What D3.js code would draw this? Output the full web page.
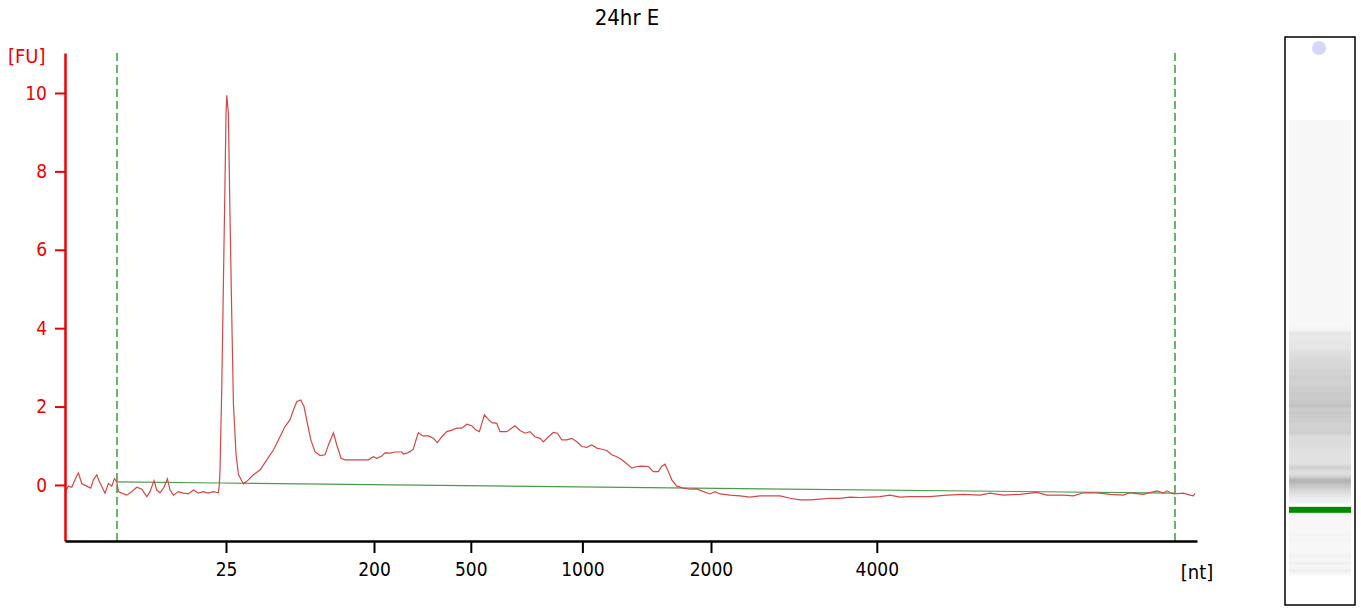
<!DOCTYPE html>
<html>
<head>
<meta charset="utf-8">
<script src="https://cdn.jsdelivr.net/npm/d3@7"></script>
<style>
  body { margin: 0; background: #fff; }
  svg { display: block; }
  text { font-family: "DejaVu Sans Condensed", "DejaVu Sans", sans-serif; font-stretch: condensed; }
</style>
</head>
<body>
<div id="chart"></div>
<script>
var svgWidth = 1361;
var svgHeight = 609;

var margin = { top: 53, right: 164, bottom: 68, left: 65 };
var width = svgWidth - margin.left - margin.right;
var height = svgHeight - margin.top - margin.bottom;

// migration time (s) of each trace sample and its fluorescence (FU)
var traceTime = [
  17.00, 17.17, 17.34, 17.50, 17.67, 17.84, 18.09, 18.29, 18.42, 18.59,
  18.72, 18.84, 19.00, 19.17, 19.34, 19.47, 19.59, 19.67, 19.84, 20.09,
  20.34, 20.59, 20.84, 21.09, 21.25, 21.45, 21.59, 21.75, 21.95, 22.12,
  22.25, 22.42, 22.67, 22.92, 23.17, 23.42, 23.67, 23.92, 24.17, 24.42,
  24.67, 24.72, 24.75, 24.84, 24.92, 25.00, 25.05, 25.09, 25.17, 25.25,
  25.34, 25.42, 25.55, 25.67, 25.84, 25.93, 26.17, 26.42, 26.75, 27.09,
  27.42, 27.75, 28.00, 28.25, 28.42, 28.59, 28.79, 28.95, 29.12, 29.29,
  29.50, 29.75, 30.00, 30.20, 30.42, 30.59, 30.80, 31.00, 31.59, 32.17,
  32.42, 32.59, 32.84, 33.00, 33.25, 33.50, 33.84, 33.92, 34.09, 34.25,
  34.42, 34.55, 34.67, 34.89, 35.17, 35.42, 35.62, 35.84, 36.09, 36.34,
  36.59, 36.84, 37.09, 37.34, 37.55, 37.72, 37.84, 37.97, 38.12, 38.34,
  38.59, 38.75, 39.09, 39.34, 39.50, 39.75, 40.00, 40.25, 40.50, 40.75,
  40.92, 41.17, 41.42, 41.62, 41.84, 42.09, 42.34, 42.59, 42.84, 43.09,
  43.34, 43.59, 43.84, 44.09, 44.34, 44.59, 44.84, 45.09, 45.34, 45.59,
  45.84, 46.17, 46.42, 46.67, 46.84, 47.00, 47.17, 47.34, 47.59, 47.92,
  48.25, 48.59, 48.92, 49.25, 49.50, 49.75, 50.25, 50.75, 51.25, 51.75,
  52.25, 52.75, 53.25, 53.75, 54.25, 54.75, 55.25, 55.75, 56.25, 56.75,
  57.25, 57.75, 58.25, 58.75, 59.25, 59.75, 60.25, 61.09, 61.92, 62.75,
  63.25, 63.92, 64.75, 65.59, 66.09, 66.92, 67.42, 67.92, 68.59, 69.25,
  69.92, 70.25, 70.92, 71.59, 71.92, 72.09, 72.42, 72.92, 73.25, 73.42,
  73.50
];
var traceFU = [
  -0.17, -0.03, -0.06, 0.13, 0.31, 0.03, -0.03, -0.08, 0.13, 0.26,
  0.08, -0.04, -0.21, 0.04, -0.03, 0.16, 0.08, -0.17, -0.21, -0.26,
  -0.17, -0.06, -0.11, -0.30, -0.17, 0.11, -0.13, -0.20, -0.06, 0.16,
  -0.13, -0.26, -0.17, -0.21, -0.23, -0.13, -0.21, -0.17, -0.21, -0.17,
  -0.20, 0.04, 0.36, 2.53, 5.13, 7.73, 9.46, 9.94, 9.46, 6.86,
  4.26, 2.09, 0.79, 0.27, 0.10, 0.03, 0.13, 0.26, 0.38, 0.64,
  0.89, 1.23, 1.49, 1.66, 1.91, 2.13, 2.17, 2.00, 1.57, 1.15,
  0.85, 0.75, 0.77, 1.06, 1.33, 1.02, 0.68, 0.64, 0.64, 0.64,
  0.72, 0.68, 0.74, 0.82, 0.81, 0.84, 0.84, 0.79, 0.81, 0.85,
  0.92, 1.15, 1.33, 1.25, 1.25, 1.19, 1.08, 1.23, 1.36, 1.40,
  1.45, 1.45, 1.55, 1.51, 1.40, 1.36, 1.57, 1.79, 1.70, 1.59,
  1.57, 1.36, 1.36, 1.45, 1.51, 1.39, 1.32, 1.36, 1.23, 1.19,
  1.10, 1.23, 1.34, 1.32, 1.15, 1.15, 1.19, 1.10, 0.98, 0.96,
  1.02, 0.94, 0.91, 0.88, 0.77, 0.72, 0.64, 0.54, 0.43, 0.47,
  0.48, 0.47, 0.34, 0.34, 0.48, 0.53, 0.34, 0.13, -0.03, -0.08,
  -0.11, -0.10, -0.17, -0.23, -0.17, -0.23, -0.26, -0.28, -0.31, -0.28,
  -0.28, -0.28, -0.34, -0.38, -0.38, -0.36, -0.34, -0.34, -0.31, -0.32,
  -0.31, -0.30, -0.26, -0.31, -0.30, -0.30, -0.30, -0.26, -0.24, -0.26,
  -0.21, -0.26, -0.24, -0.19, -0.26, -0.26, -0.28, -0.20, -0.20, -0.24,
  -0.26, -0.20, -0.24, -0.15, -0.21, -0.15, -0.23, -0.21, -0.26, -0.28,
  -0.21
];

// fitted baseline
var baseTime = [19.60, 24.70, 72.50];
var baseFU = [0.08, 0.05, -0.21];

// ladder sizes and where they run
var ladderNt = [25, 200, 500, 1000, 2000, 4000];
var ladderTime = [25.05, 32.45, 37.29, 42.87, 49.30, 57.59];

// start / end of the analysed region
var markerTime = [19.60, 72.50];
var lowerMarkerTime = 25.09;

var fuTicks = [0, 2, 4, 6, 8, 10];

var svg = d3.select("#chart")
  .append("svg")
  .attr("width", svgWidth)
  .attr("height", svgHeight);

var chartGroup = svg.append("g")
  .attr("transform", `translate(${margin.left}, ${margin.top})`);

var xScale = d3.scaleLinear().domain([17, 73.6]).range([0, 1132]);
var yScale = d3.scaleLinear().domain([-1.43, 11.02]).range([height, 0]);

// title
svg.append("text")
  .attr("x", 627)
  .attr("y", 25)
  .attr("text-anchor", "middle")
  .style("font-size", "22px")
  .text("24hr E");

// dashed region lines
chartGroup.selectAll(".region")
  .data(markerTime)
  .enter()
  .append("line")
  .attr("x1", d => xScale(d))
  .attr("x2", d => xScale(d))
  .attr("y1", 0)
  .attr("y2", height)
  .attr("stroke", "#3a9a3a")
  .attr("stroke-width", 1.5)
  .attr("stroke-dasharray", "8,4");

// baseline
var baseLine = d3.line()
  .x((d, i) => xScale(baseTime[i]))
  .y(d => yScale(d));

chartGroup.append("path")
  .datum(baseFU)
  .attr("d", baseLine)
  .attr("fill", "none")
  .attr("stroke", "#4c9a4c")
  .attr("stroke-width", 1.2);

// electropherogram
var trace = d3.line()
  .x((d, i) => xScale(traceTime[i]))
  .y(d => yScale(d));

chartGroup.append("path")
  .datum(traceFU)
  .attr("d", trace)
  .attr("fill", "none")
  .attr("stroke", "#d24848")
  .attr("stroke-width", 1.2);

// axes
var leftAxis = d3.axisLeft(yScale)
  .tickValues(fuTicks)
  .tickSize(10)
  .tickSizeOuter(0)
  .tickPadding(8);

var yAxisG = chartGroup.append("g").call(leftAxis);
yAxisG.select(".domain").attr("stroke", "#ee0000").attr("stroke-width", 2.5);
yAxisG.selectAll(".tick line").attr("stroke", "#ee0000").attr("stroke-width", 2);
yAxisG.selectAll(".tick text")
  .attr("fill", "#ee0000")
  .style("font-size", "19px")
  .style("font-family", "'DejaVu Sans Condensed', 'DejaVu Sans', sans-serif");

svg.append("text")
  .attr("x", 8)
  .attr("y", 63)
  .attr("fill", "#ee0000")
  .style("font-size", "20px")
  .text("[FU]");

var bottomAxis = d3.axisBottom(xScale)
  .tickValues(ladderTime)
  .tickFormat((d, i) => ladderNt[i])
  .tickSize(12)
  .tickSizeOuter(0)
  .tickPadding(10);

var xAxisG = chartGroup.append("g")
  .attr("transform", `translate(0, ${height})`)
  .call(bottomAxis);
xAxisG.select(".domain").attr("stroke", "#000").attr("stroke-width", 2.5);
xAxisG.selectAll(".tick line").attr("stroke", "#000").attr("stroke-width", 2);
xAxisG.selectAll(".tick text")
  .attr("fill", "#000")
  .style("font-size", "19px")
  .style("font-family", "'DejaVu Sans Condensed', 'DejaVu Sans', sans-serif");

svg.append("text")
  .attr("x", 1197)
  .attr("y", 579)
  .attr("text-anchor", "middle")
  .style("font-size", "20px")
  .text("[nt]");

// gel-like lane built from the same trace
var laneX = 1285, laneW = 70;
var laneY = d3.scaleLinear().domain([17, 73.6]).range([575, 119]);
var grayScale = d3.scaleLinear().domain([-0.1, 2.2]).range([247, 180]).clamp(true);

var lane = svg.append("g");
lane.append("rect")
  .attr("x", laneX)
  .attr("y", 37)
  .attr("width", laneW)
  .attr("height", 568)
  .attr("fill", "#fff");

var segs = d3.range(traceTime.length - 1)
  .filter(i => traceTime[i] < 24.72 || traceTime[i] > 25.9);

lane.selectAll(".band")
  .data(segs)
  .enter()
  .append("rect")
  .attr("x", laneX + 4)
  .attr("width", laneW - 8)
  .attr("y", i => laneY(traceTime[i + 1]))
  .attr("height", i => laneY(traceTime[i]) - laneY(traceTime[i + 1]) + 0.5)
  .attr("fill", i => {
    var g = Math.round(grayScale((traceFU[i] + traceFU[i + 1]) / 2));
    return `rgb(${g},${g},${g})`;
  });

lane.append("rect")
  .attr("x", laneX + 4)
  .attr("width", laneW - 8)
  .attr("y", laneY(lowerMarkerTime) - 3)
  .attr("height", 6)
  .attr("fill", "#008a00");

lane.append("circle")
  .attr("cx", 1319)
  .attr("cy", 48)
  .attr("r", 7)
  .attr("fill", "#d6d6fb");

lane.append("rect")
  .attr("x", laneX)
  .attr("y", 37)
  .attr("width", laneW)
  .attr("height", 568)
  .attr("fill", "none")
  .attr("stroke", "#000")
  .attr("stroke-width", 1.5);
</script>
</body>
</html>
